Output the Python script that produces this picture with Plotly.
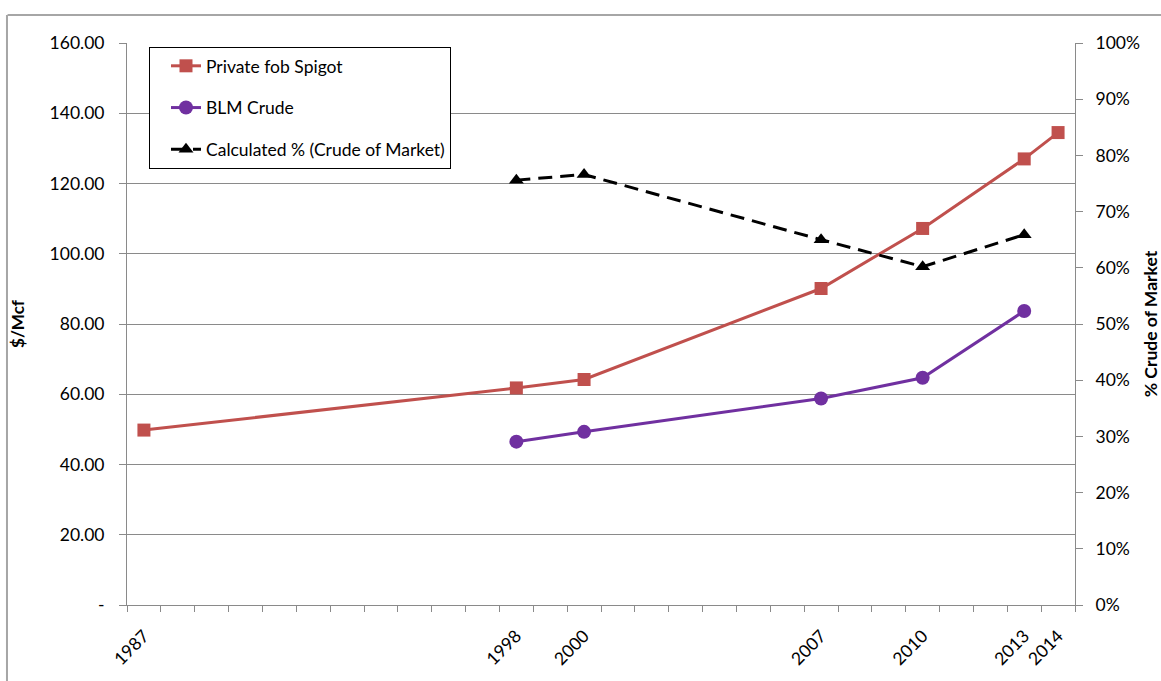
import plotly.graph_objects as go

# Price series ($/Mcf) by year
spigot_years = [1987, 1998, 2000, 2007, 2010, 2013, 2014]
spigot_price = [49.8, 61.8, 64.2, 90.1, 107.2, 127.0, 134.5]

blm_years = [1998, 2000, 2007, 2010, 2013]
blm_price = [46.5, 49.3, 58.8, 64.7, 83.7]

# Crude share of market price (right axis)
pct_years = [1998, 2000, 2007, 2010, 2013]
pct_crude = [0.756, 0.766, 0.650, 0.602, 0.659]

# Category axis spans every year from 1987 through 2014
first_year, last_year = 1987, 2014
label_years = [1987, 1998, 2000, 2007, 2010, 2013, 2014]

left_ticks = [0, 20, 40, 60, 80, 100, 120, 140, 160]
left_ticktext = ["-"] + [f"{v:.2f}" for v in left_ticks[1:]]

RED = "#C0504D"
PURPLE = "#7030A0"
GRID = "#8a8a8a"
FONT = "Lato"
TICK_SIZE = 17.5

fig = go.Figure()

fig.add_trace(go.Scatter(
    x=spigot_years, y=spigot_price, name="Private fob Spigot",
    mode="lines+markers",
    line=dict(color=RED, width=3),
    marker=dict(symbol="square", size=13, color=RED),
    legendgroup="a",
))
fig.add_trace(go.Scatter(
    x=blm_years, y=blm_price, name="BLM Crude",
    mode="lines+markers",
    line=dict(color=PURPLE, width=3),
    marker=dict(symbol="circle", size=14, color=PURPLE),
    legendgroup="b",
))
fig.add_trace(go.Scatter(
    x=pct_years, y=pct_crude, name="Calculated % (Crude of Market)",
    mode="lines+markers", yaxis="y2",
    line=dict(color="black", width=3, dash="14px,8px"),
    marker=dict(symbol="triangle-up", size=13, color="black"),
    legendgroup="c",
))

boundaries = [y - 0.5 for y in range(first_year, last_year + 2)]

fig.update_layout(
    width=1161, height=681,
    margin=dict(l=127, r=86, t=43, b=76, autoexpand=False),
    paper_bgcolor="white", plot_bgcolor="white",
    font=dict(family=FONT, size=TICK_SIZE, color="black"),
    showlegend=True,
    legend=dict(
        x=0.0232, y=0.993, xanchor="left", yanchor="top",
        bordercolor="black", borderwidth=1, bgcolor="white",
        font=dict(family=FONT, size=17.5, color="black"),
        traceorder="grouped", tracegroupgap=16,
        indentation=16,
    ),
    xaxis=dict(
        range=[first_year - 0.5, last_year + 0.5],
        tickmode="array", tickvals=label_years,
        ticktext=[str(y) for y in label_years],
        tickangle=-45, ticks="", showgrid=False, zeroline=False,
        showline=True, linecolor=GRID, linewidth=1,
        tickfont=dict(family=FONT, size=TICK_SIZE),
        ticklabelstandoff=13, automargin=False,
        minor=dict(tickmode="array", tickvals=boundaries, ticks="outside",
                   ticklen=6, tickcolor=GRID, showgrid=False),
    ),
    yaxis=dict(
        range=[0, 160], tickmode="array", tickvals=left_ticks,
        ticktext=left_ticktext, ticks="outside", ticklen=7, tickcolor=GRID,
        showgrid=True, gridcolor=GRID, gridwidth=1, zeroline=False,
        showline=True, linecolor=GRID, linewidth=1,
        tickfont=dict(family=FONT, size=TICK_SIZE),
        ticklabelstandoff=11, automargin=False,
        title=dict(text="<b>$/Mcf</b>", font=dict(family=FONT, size=17), standoff=20),
    ),
    yaxis2=dict(
        range=[0, 1], overlaying="y", side="right",
        tickmode="linear", tick0=0, dtick=0.1, tickformat=".0%",
        ticks="outside", ticklen=7, tickcolor=GRID,
        showgrid=False, zeroline=False,
        showline=True, linecolor=GRID, linewidth=1,
        tickfont=dict(family=FONT, size=TICK_SIZE),
        ticklabelstandoff=9, automargin=False,
        title=dict(text="<b>% Crude of Market</b>", font=dict(family=FONT, size=17.5), standoff=12),
    ),
    shapes=[
        # chart frame (top and left edges)
        dict(type="line", xref="paper", yref="paper",
             x0=-0.126, x1=1.12, y0=1.0498, y1=1.0498,
             line=dict(color="#a6a6a6", width=2)),
        dict(type="line", xref="paper", yref="paper",
             x0=-0.1266, x1=-0.1266, y0=-0.2, y1=1.0498,
             line=dict(color="#a6a6a6", width=2)),
    ],
)

fig.write_html("out.html")
